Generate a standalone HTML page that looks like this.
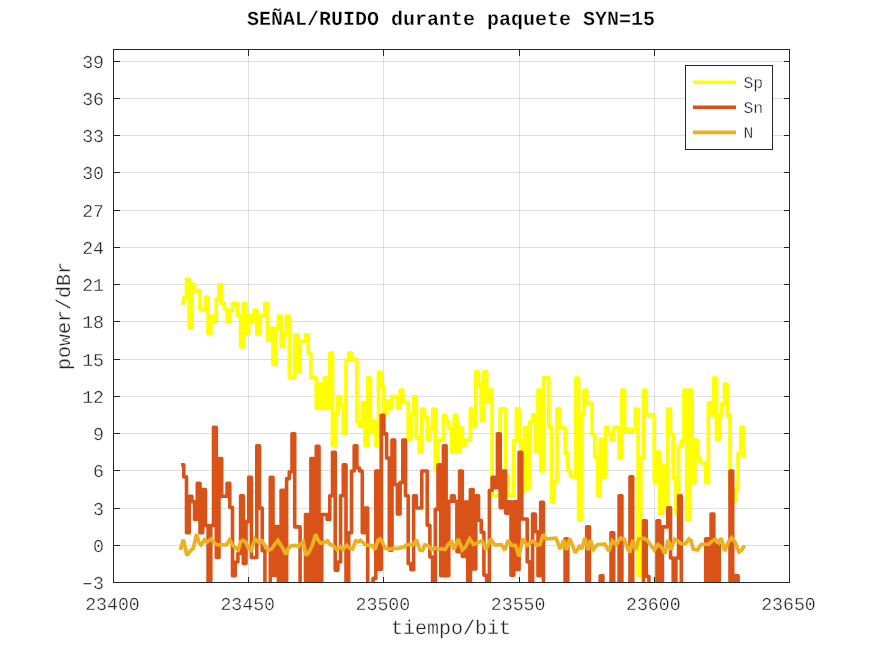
<!DOCTYPE html>
<html><head><meta charset="utf-8"><title>SNR</title>
<style>
html,body{margin:0;padding:0;background:#fff;}
body{width:872px;height:654px;overflow:hidden;font-family:"Liberation Mono",monospace;}
svg{display:block;}
text{font-family:"Liberation Mono",monospace;fill:#262626;stroke:#fff;stroke-width:0.3px;paint-order:fill stroke;text-rendering:geometricPrecision;}
.tk{font-size:18.2px;}
.lb{font-size:20px;}
.lg{font-size:16.4px;}
.tt{font-size:20px;font-weight:bold;fill:#000;stroke-width:0.3px;}
</style></head><body>
<svg width="872" height="654" viewBox="0 0 872 654" style="will-change:transform">
<rect x="0" y="0" width="872" height="654" fill="#fff"/>

<g stroke="#262626" stroke-opacity="0.15" stroke-width="1" shape-rendering="crispEdges">
<line x1="248.5" y1="49.5" x2="248.5" y2="582.5"/>
<line x1="383.5" y1="49.5" x2="383.5" y2="582.5"/>
<line x1="519.5" y1="49.5" x2="519.5" y2="582.5"/>
<line x1="654.5" y1="49.5" x2="654.5" y2="582.5"/>
<line x1="113.5" y1="545.5" x2="789.5" y2="545.5"/>
<line x1="113.5" y1="508.5" x2="789.5" y2="508.5"/>
<line x1="113.5" y1="470.5" x2="789.5" y2="470.5"/>
<line x1="113.5" y1="433.5" x2="789.5" y2="433.5"/>
<line x1="113.5" y1="396.5" x2="789.5" y2="396.5"/>
<line x1="113.5" y1="359.5" x2="789.5" y2="359.5"/>
<line x1="113.5" y1="321.5" x2="789.5" y2="321.5"/>
<line x1="113.5" y1="284.5" x2="789.5" y2="284.5"/>
<line x1="113.5" y1="247.5" x2="789.5" y2="247.5"/>
<line x1="113.5" y1="210.5" x2="789.5" y2="210.5"/>
<line x1="113.5" y1="172.5" x2="789.5" y2="172.5"/>
<line x1="113.5" y1="135.5" x2="789.5" y2="135.5"/>
<line x1="113.5" y1="98.5" x2="789.5" y2="98.5"/>
<line x1="113.5" y1="61.5" x2="789.5" y2="61.5"/>
</g>
<clipPath id="c"><rect x="113.5" y="49.5" width="676.0" height="533.0"/></clipPath>
<g clip-path="url(#c)" fill="none" stroke-linejoin="round" stroke-linecap="butt" stroke-width="3.7">
<path stroke="#ffff00" stroke-width="3.7" d="M181.1 302.8 L183.8 302.8 L183.8 297.8 L186.5 297.8 L186.5 279.0 L189.2 279.0 L189.2 327.8 L191.9 327.8 L191.9 284.7 L194.6 284.7 L194.6 290.9 L197.3 290.9 L197.3 290.9 L200.0 290.9 L200.0 309.3 L202.7 309.3 L202.7 309.3 L205.4 309.3 L205.4 297.1 L208.1 297.1 L208.1 334.0 L210.8 334.0 L210.8 316.2 L213.5 316.2 L213.5 321.6 L216.3 321.6 L216.3 299.1 L219.0 299.1 L219.0 284.7 L221.7 284.7 L221.7 303.3 L224.4 303.3 L224.4 309.0 L227.1 309.0 L227.1 321.6 L229.8 321.6 L229.8 310.4 L232.5 310.4 L232.5 303.4 L235.2 303.4 L235.2 303.4 L237.9 303.4 L237.9 315.9 L240.6 315.9 L240.6 346.8 L243.3 346.8 L243.3 303.4 L246.0 303.4 L246.0 334.0 L248.7 334.0 L248.7 315.9 L251.4 315.9 L251.4 321.6 L254.1 321.6 L254.1 310.2 L256.8 310.2 L256.8 334.0 L259.5 334.0 L259.5 315.9 L262.2 315.9 L262.2 315.9 L264.9 315.9 L264.9 303.4 L267.6 303.4 L267.6 340.1 L270.3 340.1 L270.3 328.0 L273.0 328.0 L273.0 364.5 L275.7 364.5 L275.7 328.0 L278.4 328.0 L278.4 316.0 L281.1 316.0 L281.1 346.6 L283.9 346.6 L283.9 334.4 L286.6 334.4 L286.6 316.0 L289.3 316.0 L289.3 377.7 L292.0 377.7 L292.0 377.7 L294.7 377.7 L294.7 334.9 L297.4 334.9 L297.4 371.1 L300.1 371.1 L300.1 341.0 L302.8 341.0 L302.8 341.0 L305.5 341.0 L305.5 334.9 L308.2 334.9 L308.2 353.6 L310.9 353.6 L310.9 377.7 L313.6 377.7 L313.6 377.7 L316.3 377.7 L316.3 408.4 L319.0 408.4 L319.0 384.1 L321.7 384.1 L321.7 408.4 L324.4 408.4 L324.4 377.9 L327.1 377.9 L327.1 408.4 L329.8 408.4 L329.8 353.1 L332.5 353.1 L332.5 445.6 L335.2 445.6 L335.2 413.7 L337.9 413.7 L337.9 396.6 L340.6 396.6 L340.6 405.5 L343.3 405.5 L343.3 433.2 L346.0 433.2 L346.0 360.0 L348.7 360.0 L348.7 352.9 L351.5 352.9 L351.5 359.3 L354.2 359.3 L354.2 359.3 L356.9 359.3 L356.9 421.3 L359.6 421.3 L359.6 426.3 L362.3 426.3 L362.3 402.5 L365.0 402.5 L365.0 445.6 L367.7 445.6 L367.7 377.9 L370.4 377.9 L370.4 432.5 L373.1 432.5 L373.1 421.1 L375.8 421.1 L375.8 445.6 L378.5 445.6 L378.5 372.0 L381.2 372.0 L381.2 386.2 L383.9 386.2 L383.9 414.6 L386.6 414.6 L386.6 401.1 L389.3 401.1 L389.3 408.4 L392.0 408.4 L392.0 396.3 L394.7 396.3 L394.7 396.8 L397.4 396.8 L397.4 408.2 L400.1 408.2 L400.1 390.2 L402.8 390.2 L402.8 402.3 L405.5 402.3 L405.5 402.3 L408.2 402.3 L408.2 439.2 L410.9 439.2 L410.9 414.2 L413.6 414.2 L413.6 396.8 L416.3 396.8 L416.3 437.8 L419.1 437.8 L419.1 451.6 L421.8 451.6 L421.8 409.2 L424.5 409.2 L424.5 417.7 L427.2 417.7 L427.2 439.2 L429.9 439.2 L429.9 428.7 L432.6 428.7 L432.6 409.2 L435.3 409.2 L435.3 470.0 L438.0 470.0 L438.0 440.2 L440.7 440.2 L440.7 440.2 L443.4 440.2 L443.4 415.4 L446.1 415.4 L446.1 421.8 L448.8 421.8 L448.8 428.7 L451.5 428.7 L451.5 451.6 L454.2 451.6 L454.2 415.4 L456.9 415.4 L456.9 451.6 L459.6 451.6 L459.6 427.8 L462.3 427.8 L462.3 445.4 L465.0 445.4 L465.0 440.2 L467.7 440.2 L467.7 440.2 L470.4 440.2 L470.4 408.9 L473.1 408.9 L473.1 426.5 L475.8 426.5 L475.8 371.9 L478.5 371.9 L478.5 384.7 L481.2 384.7 L481.2 420.6 L483.9 420.6 L483.9 371.9 L486.7 371.9 L486.7 402.1 L489.4 402.1 L489.4 390.0 L492.1 390.0 L492.1 495.4 L494.8 495.4 L494.8 495.4 L497.5 495.4 L497.5 495.4 L500.2 495.4 L500.2 408.9 L502.9 408.9 L502.9 408.9 L505.6 408.9 L505.6 476.0 L508.3 476.0 L508.3 495.5 L511.0 495.5 L511.0 495.5 L513.7 495.5 L513.7 440.8 L516.4 440.8 L516.4 408.9 L519.1 408.9 L519.1 440.8 L521.8 440.8 L521.8 492.0 L524.5 492.0 L524.5 427.9 L527.2 427.9 L527.2 488.6 L529.9 488.6 L529.9 421.7 L532.6 421.7 L532.6 414.8 L535.3 414.8 L535.3 451.5 L538.0 451.5 L538.0 390.0 L540.7 390.0 L540.7 470.8 L543.4 470.8 L543.4 377.9 L546.1 377.9 L546.1 377.9 L548.8 377.9 L548.8 426.9 L551.5 426.9 L551.5 501.5 L554.3 501.5 L554.3 481.1 L557.0 481.1 L557.0 408.9 L559.7 408.9 L559.7 427.7 L562.4 427.7 L562.4 427.7 L565.1 427.7 L565.1 453.1 L567.8 453.1 L567.8 470.5 L570.5 470.5 L570.5 476.3 L573.2 476.3 L573.2 476.9 L575.9 476.9 L575.9 378.1 L578.6 378.1 L578.6 520.1 L581.3 520.1 L581.3 415.0 L584.0 415.0 L584.0 390.2 L586.7 390.2 L586.7 402.9 L589.4 402.9 L589.4 402.9 L592.1 402.9 L592.1 434.3 L594.8 434.3 L594.8 457.2 L597.5 457.2 L597.5 495.1 L600.2 495.1 L600.2 439.7 L602.9 439.7 L602.9 476.9 L605.6 476.9 L605.6 427.4 L608.3 427.4 L608.3 433.8 L611.0 433.8 L611.0 440.0 L613.7 440.0 L613.7 427.4 L616.4 427.4 L616.4 427.4 L619.1 427.4 L619.1 457.9 L621.9 457.9 L621.9 390.2 L624.6 390.2 L624.6 431.0 L627.3 431.0 L627.3 429.0 L630.0 429.0 L630.0 431.7 L632.7 431.7 L632.7 429.7 L635.4 429.7 L635.4 409.2 L638.1 409.2 L638.1 575.6 L640.8 575.6 L640.8 457.9 L643.5 457.9 L643.5 390.2 L646.2 390.2 L646.2 414.8 L648.9 414.8 L648.9 414.8 L651.6 414.8 L651.6 414.8 L654.3 414.8 L654.3 482.7 L657.0 482.7 L657.0 452.0 L659.7 452.0 L659.7 513.6 L662.4 513.6 L662.4 465.1 L665.1 465.1 L665.1 507.4 L667.8 507.4 L667.8 409.2 L670.5 409.2 L670.5 434.0 L673.2 434.0 L673.2 477.7 L675.9 477.7 L675.9 513.6 L678.6 513.6 L678.6 446.0 L681.3 446.0 L681.3 441.1 L684.0 441.1 L684.0 390.2 L686.7 390.2 L686.7 520.1 L689.5 520.1 L689.5 390.2 L692.2 390.2 L692.2 482.7 L694.9 482.7 L694.9 440.0 L697.6 440.0 L697.6 458.4 L700.3 458.4 L700.3 462.5 L703.0 462.5 L703.0 463.2 L705.7 463.2 L705.7 482.7 L708.4 482.7 L708.4 402.9 L711.1 402.9 L711.1 414.8 L713.8 414.8 L713.8 378.1 L716.5 378.1 L716.5 439.5 L719.2 439.5 L719.2 414.8 L721.9 414.8 L721.9 403.3 L724.6 403.3 L724.6 384.1 L727.3 384.1 L727.3 415.7 L730.0 415.7 L730.0 501.3 L732.7 501.3 L732.7 501.3 L735.4 501.3 L735.4 489.4 L738.1 489.4 L738.1 453.0 L740.8 453.0 L740.8 427.4 L743.5 427.4 L743.5 456.5 L746.2 456.5"/>
<path stroke="#d95319" stroke-width="3.6" d="M181.1 464.8 L183.8 464.8 L183.8 476.9 L186.5 476.9 L186.5 532.7 L189.2 532.7 L189.2 496.2 L191.9 496.2 L191.9 501.7 L194.6 501.7 L194.6 519.5 L197.3 519.5 L197.3 483.4 L200.0 483.4 L200.0 532.7 L202.7 532.7 L202.7 489.6 L205.4 489.6 L205.4 525.5 L208.1 525.5 L208.1 600.0 L210.8 600.0 L210.8 525.5 L213.5 525.5 L213.5 427.4 L216.3 427.4 L216.3 557.5 L219.0 557.5 L219.0 458.6 L221.7 458.6 L221.7 496.2 L224.4 496.2 L224.4 496.2 L227.1 496.2 L227.1 483.4 L229.8 483.4 L229.8 507.4 L232.5 507.4 L232.5 575.8 L235.2 575.8 L235.2 562.0 L237.9 562.0 L237.9 553.4 L240.6 553.4 L240.6 495.8 L243.3 495.8 L243.3 563.4 L246.0 563.4 L246.0 521.6 L248.7 521.6 L248.7 477.2 L251.4 477.2 L251.4 557.5 L254.1 557.5 L254.1 557.5 L256.8 557.5 L256.8 445.8 L259.5 445.8 L259.5 508.1 L262.2 508.1 L262.2 550.6 L264.9 550.6 L264.9 600.0 L267.6 600.0 L267.6 600.0 L270.3 600.0 L270.3 477.2 L273.0 477.2 L273.0 575.3 L275.7 575.3 L275.7 526.5 L278.4 526.5 L278.4 600.0 L281.1 600.0 L281.1 490.3 L283.9 490.3 L283.9 600.0 L286.6 600.0 L286.6 478.6 L289.3 478.6 L289.3 471.7 L292.0 471.7 L292.0 433.9 L294.7 433.9 L294.7 526.9 L297.4 526.9 L297.4 526.9 L300.1 526.9 L300.1 600.0 L302.8 600.0 L302.8 600.0 L305.5 600.0 L305.5 514.5 L308.2 514.5 L308.2 600.0 L310.9 600.0 L310.9 458.6 L313.6 458.6 L313.6 600.0 L316.3 600.0 L316.3 446.2 L319.0 446.2 L319.0 600.0 L321.7 600.0 L321.7 514.5 L324.4 514.5 L324.4 514.5 L327.1 514.5 L327.1 519.5 L329.8 519.5 L329.8 495.8 L332.5 495.8 L332.5 452.2 L335.2 452.2 L335.2 570.3 L337.9 570.3 L337.9 562.0 L340.6 562.0 L340.6 495.8 L343.3 495.8 L343.3 464.8 L346.0 464.8 L346.0 600.0 L348.7 600.0 L348.7 532.8 L351.5 532.8 L351.5 471.0 L354.2 471.0 L354.2 445.8 L356.9 445.8 L356.9 468.0 L359.6 468.0 L359.6 471.0 L362.3 471.0 L362.3 532.8 L365.0 532.8 L365.0 508.1 L367.7 508.1 L367.7 600.0 L370.4 600.0 L370.4 600.0 L373.1 600.0 L373.1 578.4 L375.8 578.4 L375.8 471.0 L378.5 471.0 L378.5 569.4 L381.2 569.4 L381.2 415.4 L383.9 415.4 L383.9 433.9 L386.6 433.9 L386.6 458.1 L389.3 458.1 L389.3 550.1 L392.0 550.1 L392.0 440.0 L394.7 440.0 L394.7 484.5 L397.4 484.5 L397.4 514.0 L400.1 514.0 L400.1 482.4 L402.8 482.4 L402.8 440.0 L405.5 440.0 L405.5 495.8 L408.2 495.8 L408.2 563.7 L410.9 563.7 L410.9 569.8 L413.6 569.8 L413.6 495.8 L416.3 495.8 L416.3 508.0 L419.1 508.0 L419.1 508.0 L421.8 508.0 L421.8 471.0 L424.5 471.0 L424.5 471.0 L427.2 471.0 L427.2 525.3 L429.9 525.3 L429.9 557.0 L432.6 557.0 L432.6 600.0 L435.3 600.0 L435.3 509.4 L438.0 509.4 L438.0 464.8 L440.7 464.8 L440.7 575.8 L443.4 575.8 L443.4 445.8 L446.1 445.8 L446.1 575.8 L448.8 575.8 L448.8 501.2 L451.5 501.2 L451.5 495.9 L454.2 495.9 L454.2 501.2 L456.9 501.2 L456.9 551.8 L459.6 551.8 L459.6 471.0 L462.3 471.0 L462.3 556.5 L465.0 556.5 L465.0 502.0 L467.7 502.0 L467.7 600.0 L470.4 600.0 L470.4 489.6 L473.1 489.6 L473.1 568.9 L475.8 568.9 L475.8 495.8 L478.5 495.8 L478.5 520.2 L481.2 520.2 L481.2 532.2 L483.9 532.2 L483.9 575.3 L486.7 575.3 L486.7 600.0 L489.4 600.0 L489.4 490.3 L492.1 490.3 L492.1 477.2 L494.8 477.2 L494.8 487.7 L497.5 487.7 L497.5 433.9 L500.2 433.9 L500.2 507.6 L502.9 507.6 L502.9 471.0 L505.6 471.0 L505.6 513.1 L508.3 513.1 L508.3 501.7 L511.0 501.7 L511.0 575.3 L513.7 575.3 L513.7 501.7 L516.4 501.7 L516.4 569.4 L519.1 569.4 L519.1 452.4 L521.8 452.4 L521.8 519.0 L524.5 519.0 L524.5 519.0 L527.2 519.0 L527.2 561.9 L529.9 561.9 L529.9 600.0 L532.6 600.0 L532.6 514.1 L535.3 514.1 L535.3 531.7 L538.0 531.7 L538.0 575.8 L540.7 575.8 L540.7 502.2 L543.4 502.2 L543.4 600.0 L546.1 600.0 L546.1 600.0 L548.8 600.0 L548.8 600.0 L551.5 600.0 L551.5 600.0 L554.3 600.0 L554.3 600.0 L557.0 600.0 L557.0 600.0 L559.7 600.0 L559.7 600.0 L562.4 600.0 L562.4 600.0 L565.1 600.0 L565.1 538.9 L567.8 538.9 L567.8 600.0 L570.5 600.0 L570.5 600.0 L573.2 600.0 L573.2 600.0 L575.9 600.0 L575.9 600.0 L578.6 600.0 L578.6 600.0 L581.3 600.0 L581.3 600.0 L584.0 600.0 L584.0 600.0 L586.7 600.0 L586.7 526.7 L589.4 526.7 L589.4 600.0 L592.1 600.0 L592.1 600.0 L594.8 600.0 L594.8 600.0 L597.5 600.0 L597.5 600.0 L600.2 600.0 L600.2 575.9 L602.9 575.9 L602.9 600.0 L605.6 600.0 L605.6 600.0 L608.3 600.0 L608.3 600.0 L611.0 600.0 L611.0 532.9 L613.7 532.9 L613.7 600.0 L616.4 600.0 L616.4 600.0 L619.1 600.0 L619.1 495.8 L621.9 495.8 L621.9 600.0 L624.6 600.0 L624.6 600.0 L627.3 600.0 L627.3 600.0 L630.0 600.0 L630.0 476.9 L632.7 476.9 L632.7 600.0 L635.4 600.0 L635.4 600.0 L638.1 600.0 L638.1 600.0 L640.8 600.0 L640.8 600.0 L643.5 600.0 L643.5 520.7 L646.2 520.7 L646.2 576.4 L648.9 576.4 L648.9 600.0 L651.6 600.0 L651.6 600.0 L654.3 600.0 L654.3 600.0 L657.0 600.0 L657.0 520.7 L659.7 520.7 L659.7 600.0 L662.4 600.0 L662.4 526.9 L665.1 526.9 L665.1 526.9 L667.8 526.9 L667.8 507.8 L670.5 507.8 L670.5 558.0 L673.2 558.0 L673.2 600.0 L675.9 600.0 L675.9 558.0 L678.6 558.0 L678.6 495.8 L681.3 495.8 L681.3 600.0 L684.0 600.0 L684.0 600.0 L686.7 600.0 L686.7 600.0 L689.5 600.0 L689.5 600.0 L692.2 600.0 L692.2 600.0 L694.9 600.0 L694.9 600.0 L697.6 600.0 L697.6 600.0 L700.3 600.0 L700.3 600.0 L703.0 600.0 L703.0 600.0 L705.7 600.0 L705.7 538.9 L708.4 538.9 L708.4 600.0 L711.1 600.0 L711.1 514.1 L713.8 514.1 L713.8 600.0 L716.5 600.0 L716.5 545.0 L719.2 545.0 L719.2 600.0 L721.9 600.0 L721.9 600.0 L724.6 600.0 L724.6 600.0 L727.3 600.0 L727.3 600.0 L730.0 600.0 L730.0 471.0 L732.7 471.0 L732.7 600.0 L735.4 600.0 L735.4 575.9 L738.1 575.9 L738.1 600.0 L740.8 600.0 L740.8 600.0 L743.5 600.0 L743.5 600.0 L746.2 600.0"/>
<path stroke="#edb120" stroke-width="3.7" stroke-linejoin="miter" stroke-miterlimit="2" d="M180.3 549.9 L183.3 539.8 L184.6 545.3 L186.9 555.4 L190.1 551.3 L193.3 548.1 L196.6 534.3 L199.0 542.6 L201.1 544.9 L204.4 539.8 L207.1 542.1 L211.2 538.9 L215.4 544.0 L218.1 544.9 L226.4 544.9 L229.6 539.8 L232.3 544.4 L235.6 548.1 L238.3 549.9 L240.6 541.7 L242.9 540.3 L245.6 542.1 L248.4 548.1 L251.1 550.4 L255.0 538.9 L259.2 542.6 L261.9 540.8 L264.7 545.3 L268.3 550.4 L271.6 549.0 L274.8 544.4 L278.0 540.3 L280.3 544.4 L282.6 547.6 L285.8 554.5 L288.5 548.1 L291.3 545.8 L295.9 545.3 L298.6 546.7 L301.4 543.1 L303.2 541.7 L306.0 555.4 L308.7 552.7 L312.4 545.3 L315.6 534.3 L317.9 539.8 L320.6 543.1 L324.3 542.6 L327.5 540.8 L329.6 544.0 L333.3 545.8 L336.9 549.5 L340.1 546.7 L342.9 549.5 L346.6 545.3 L349.8 548.1 L352.5 549.0 L355.7 540.8 L358.5 541.7 L360.3 540.3 L362.6 542.1 L365.8 544.9 L369.0 545.3 L372.2 545.8 L375.0 549.5 L378.2 539.8 L380.0 538.9 L382.3 542.1 L385.1 548.1 L389.2 549.5 L392.9 548.1 L397.5 548.6 L401.1 547.6 L405.0 546.7 L405.5 545.3 L409.2 544.4 L412.8 544.9 L416.5 539.8 L419.7 549.9 L422.5 550.4 L424.8 544.9 L428.4 545.8 L431.7 549.5 L435.3 548.1 L438.5 549.5 L441.3 548.6 L445.0 549.5 L448.6 544.0 L451.8 540.8 L454.1 549.9 L458.3 538.9 L462.4 549.9 L465.6 546.7 L469.7 538.9 L473.4 544.4 L476.1 543.5 L481.9 540.8 L486.0 549.9 L490.6 538.9 L494.7 544.9 L501.6 544.9 L504.8 549.9 L508.0 540.3 L511.7 545.3 L515.4 545.3 L519.0 556.4 L522.7 538.9 L527.3 545.3 L531.0 542.1 L533.7 540.8 L536.5 545.3 L540.1 544.4 L543.3 534.3 L546.1 538.9 L556.0 538.1 L560.1 549.1 L563.8 540.0 L566.5 550.0 L569.7 538.6 L572.9 546.4 L575.2 552.8 L579.4 546.4 L581.7 549.1 L584.9 538.1 L588.1 550.0 L590.4 540.0 L593.6 549.1 L597.7 544.5 L605.0 544.1 L608.7 551.0 L612.4 540.9 L616.1 544.5 L620.6 538.1 L624.3 539.0 L628.0 550.0 L630.0 551.0 L632.8 540.0 L635.6 550.0 L638.8 539.0 L643.3 538.1 L647.0 540.0 L650.2 544.5 L654.4 550.0 L658.0 544.5 L661.7 547.3 L664.9 553.7 L668.1 540.0 L670.9 550.0 L674.5 539.0 L677.8 540.9 L681.0 543.6 L685.6 543.6 L688.8 539.0 L691.1 540.9 L693.3 549.1 L697.5 550.0 L701.1 544.5 L708.8 544.1 L712.4 540.9 L715.6 539.0 L718.9 542.7 L721.1 538.1 L724.8 551.0 L728.0 542.7 L731.7 537.7 L735.4 542.7 L739.0 551.9 L741.8 550.0 L744.5 545.5"/>
</g>
<g stroke="#262626" stroke-width="1" fill="none" shape-rendering="crispEdges">
<rect x="113.5" y="49.5" width="676.0" height="533.0"/>
<line x1="248.5" y1="582.5" x2="248.5" y2="576.5"/>
<line x1="248.5" y1="49.5" x2="248.5" y2="55.5"/>
<line x1="383.5" y1="582.5" x2="383.5" y2="576.5"/>
<line x1="383.5" y1="49.5" x2="383.5" y2="55.5"/>
<line x1="519.5" y1="582.5" x2="519.5" y2="576.5"/>
<line x1="519.5" y1="49.5" x2="519.5" y2="55.5"/>
<line x1="654.5" y1="582.5" x2="654.5" y2="576.5"/>
<line x1="654.5" y1="49.5" x2="654.5" y2="55.5"/>
<line x1="113.5" y1="545.5" x2="119.5" y2="545.5"/>
<line x1="789.5" y1="545.5" x2="783.5" y2="545.5"/>
<line x1="113.5" y1="508.5" x2="119.5" y2="508.5"/>
<line x1="789.5" y1="508.5" x2="783.5" y2="508.5"/>
<line x1="113.5" y1="470.5" x2="119.5" y2="470.5"/>
<line x1="789.5" y1="470.5" x2="783.5" y2="470.5"/>
<line x1="113.5" y1="433.5" x2="119.5" y2="433.5"/>
<line x1="789.5" y1="433.5" x2="783.5" y2="433.5"/>
<line x1="113.5" y1="396.5" x2="119.5" y2="396.5"/>
<line x1="789.5" y1="396.5" x2="783.5" y2="396.5"/>
<line x1="113.5" y1="359.5" x2="119.5" y2="359.5"/>
<line x1="789.5" y1="359.5" x2="783.5" y2="359.5"/>
<line x1="113.5" y1="321.5" x2="119.5" y2="321.5"/>
<line x1="789.5" y1="321.5" x2="783.5" y2="321.5"/>
<line x1="113.5" y1="284.5" x2="119.5" y2="284.5"/>
<line x1="789.5" y1="284.5" x2="783.5" y2="284.5"/>
<line x1="113.5" y1="247.5" x2="119.5" y2="247.5"/>
<line x1="789.5" y1="247.5" x2="783.5" y2="247.5"/>
<line x1="113.5" y1="210.5" x2="119.5" y2="210.5"/>
<line x1="789.5" y1="210.5" x2="783.5" y2="210.5"/>
<line x1="113.5" y1="172.5" x2="119.5" y2="172.5"/>
<line x1="789.5" y1="172.5" x2="783.5" y2="172.5"/>
<line x1="113.5" y1="135.5" x2="119.5" y2="135.5"/>
<line x1="789.5" y1="135.5" x2="783.5" y2="135.5"/>
<line x1="113.5" y1="98.5" x2="119.5" y2="98.5"/>
<line x1="789.5" y1="98.5" x2="783.5" y2="98.5"/>
<line x1="113.5" y1="61.5" x2="119.5" y2="61.5"/>
<line x1="789.5" y1="61.5" x2="783.5" y2="61.5"/>
</g>
<text class="tk" x="112.5" y="610" text-anchor="middle">23400</text>
<text class="tk" x="247.7" y="610" text-anchor="middle">23450</text>
<text class="tk" x="382.9" y="610" text-anchor="middle">23500</text>
<text class="tk" x="518.1" y="610" text-anchor="middle">23550</text>
<text class="tk" x="653.3" y="610" text-anchor="middle">23600</text>
<text class="tk" x="788.5" y="610" text-anchor="middle">23650</text>
<text class="tk" x="104" y="588.9" text-anchor="end">3</text>
<line x1="83.5" y1="583.7" x2="91.3" y2="583.7" stroke="#262626" stroke-width="1.1"/>
<text class="tk" x="104" y="551.7" text-anchor="end">0</text>
<text class="tk" x="104" y="514.5" text-anchor="end">3</text>
<text class="tk" x="104" y="477.2" text-anchor="end">6</text>
<text class="tk" x="104" y="440.0" text-anchor="end">9</text>
<text class="tk" x="104" y="402.8" text-anchor="end">12</text>
<text class="tk" x="104" y="365.5" text-anchor="end">15</text>
<text class="tk" x="104" y="328.3" text-anchor="end">18</text>
<text class="tk" x="104" y="291.1" text-anchor="end">21</text>
<text class="tk" x="104" y="253.9" text-anchor="end">24</text>
<text class="tk" x="104" y="216.6" text-anchor="end">27</text>
<text class="tk" x="104" y="179.4" text-anchor="end">30</text>
<text class="tk" x="104" y="142.2" text-anchor="end">33</text>
<text class="tk" x="104" y="104.9" text-anchor="end">36</text>
<text class="tk" x="104" y="67.7" text-anchor="end">39</text>
<text class="lb" x="451" y="634" text-anchor="middle">tiempo/bit</text>
<text class="lb" transform="translate(70,316) rotate(-90)" text-anchor="middle">power/dBr</text>
<text class="tt" x="451" y="24.5" text-anchor="middle">SEÑAL/RUIDO durante paquete SYN=15</text>
<rect x="685.5" y="65.5" width="87" height="84" fill="#fff" stroke="#262626" stroke-width="1" shape-rendering="crispEdges"/>
<line x1="693" y1="82.3" x2="736" y2="82.3" stroke="#ffff00" stroke-width="3.6"/>
<text class="lg" x="743.5" y="87.6">Sp</text>
<line x1="693" y1="107.3" x2="736" y2="107.3" stroke="#d95319" stroke-width="3.6"/>
<text class="lg" x="743.5" y="112.6">Sn</text>
<line x1="693" y1="132.4" x2="736" y2="132.4" stroke="#edb120" stroke-width="3.6"/>
<text class="lg" x="743.5" y="137.7">N</text>
</svg></body></html>
